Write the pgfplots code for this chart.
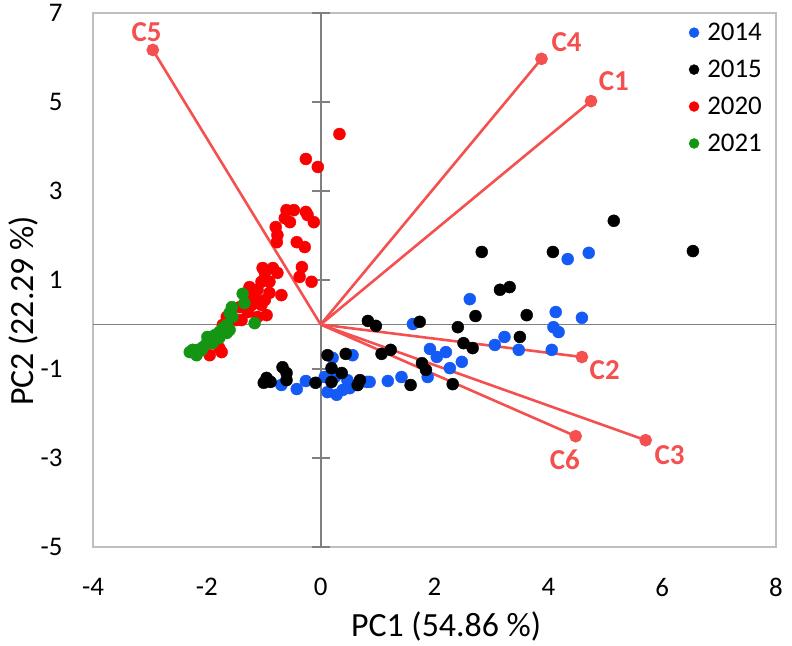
\documentclass[border=0pt]{standalone}
\usepackage{fontspec}
\setmainfont{Carlito}
\usepackage{pgfplots}
\pgfplotsset{compat=1.18}
\definecolor{vec}{RGB}{245,80,80}
\definecolor{b14}{RGB}{20,90,245}
\definecolor{r20}{RGB}{250,0,0}
\definecolor{g21}{RGB}{20,150,20}
\definecolor{frame}{RGB}{191,191,191}
\definecolor{zax}{RGB}{128,128,128}
\begin{document}
\begin{tikzpicture}
\begin{axis}[
  scale only axis, width=683bp, height=534bp,
  xmin=-4, xmax=8, ymin=-5, ymax=7,
  xtick={-4,-2,...,8}, ytick={-5,-3,...,7},
  major tick length=0pt,
  axis line style={frame, line width=1.3bp},
  tick label style={font=\fontsize{27}{30}\selectfont},
  /pgf/number format/assume math mode=true,
  xticklabel style={yshift=-28bp},
  yticklabel style={xshift=-27bp},
  xlabel={PC1 (54.86 \%)}, ylabel={PC2 (22.29 \%)},
  label style={font=\fontsize{34}{40}\selectfont},
  xlabel style={at={(axis description cs:0.517,-0.168)}, anchor=base},
  ylabel style={at={(axis description cs:-0.0878,0.442)}, anchor=base},
  legend style={draw=none, fill=none, at={(rel axis cs:1,1)}, anchor=north east,
     xshift=-10bp, yshift=-6bp, font=\fontsize{27}{30}\selectfont,
     row sep=14bp, column sep=6bp, inner sep=2bp},
  legend cell align=left,
  legend image code/.code={\fill (0bp,0bp) circle (5bp);},
  clip=false,
]
\coordinate (bl) at (rel axis cs:0,0);
\coordinate (tr) at (rel axis cs:1,1);
% central axes
\draw[zax, line width=1.8bp] (axis cs:0,-5) -- (axis cs:0,7);
\draw[zax, line width=1.8bp] (axis cs:-4,0) -- (axis cs:8,0);
\draw[zax, line width=1.8bp] (axis cs:-0.16,-5) -- (axis cs:0.16,-5);
\draw[zax, line width=1.8bp] (axis cs:-0.16,-3) -- (axis cs:0.16,-3);
\draw[zax, line width=1.8bp] (axis cs:-0.16,-1) -- (axis cs:0.16,-1);
\draw[zax, line width=1.8bp] (axis cs:-0.16,1) -- (axis cs:0.16,1);
\draw[zax, line width=1.8bp] (axis cs:-0.16,3) -- (axis cs:0.16,3);
\draw[zax, line width=1.8bp] (axis cs:-0.16,5) -- (axis cs:0.16,5);
\draw[zax, line width=1.8bp] (axis cs:-0.16,7) -- (axis cs:0.16,7);
% loading vectors
\addplot[vec, line width=2.6bp, mark=*, mark indices={2}, mark size=5bp, forget plot] coordinates {(0,0) (-2.95,6.17)};
\addplot[vec, line width=2.6bp, mark=*, mark indices={2}, mark size=5bp, forget plot] coordinates {(0,0) (3.88,5.97)};
\addplot[vec, line width=2.6bp, mark=*, mark indices={2}, mark size=5bp, forget plot] coordinates {(0,0) (4.75,5.02)};
\addplot[vec, line width=2.6bp, mark=*, mark indices={2}, mark size=5bp, forget plot] coordinates {(0,0) (4.59,-0.73)};
\addplot[vec, line width=2.6bp, mark=*, mark indices={2}, mark size=5bp, forget plot] coordinates {(0,0) (5.71,-2.60)};
\addplot[vec, line width=2.6bp, mark=*, mark indices={2}, mark size=5bp, forget plot] coordinates {(0,0) (4.48,-2.51)};
% 2014
\addplot[only marks, mark=*, color=b14, mark size=6bp, mark options={draw=none}] coordinates {
(4.71,1.61) (4.34,1.47) (2.62,0.57) (4.13,0.28) (4.59,0.15) (4.09,-0.06) (4.18,-0.17)
(3.23,-0.28) (3.06,-0.46) (3.48,-0.57) (4.06,-0.57) (1.62,0.01) (1.92,-0.55) (2.04,-0.73)
(2.20,-0.62) (2.48,-0.84) (2.27,-0.98) (1.88,-1.18) (1.42,-1.18) (1.18,-1.27) (0.86,-1.29)
(0.56,-0.69) (0.21,-0.75) (0.81,-1.29) (0.51,-1.43) (0.47,-1.25) (0.28,-1.58) (0.12,-1.52)
(0.07,-1.18) (0.25,-1.18) (-0.26,-1.27) (-0.42,-1.45) (-0.69,-1.36) (0.63,-1.36) (0.39,-1.47)
};
\addlegendentry{2014}
% 2015
\addplot[only marks, mark=*, color=black, mark size=6bp, mark options={draw=none}] coordinates {
(5.15,2.33) (6.54,1.65) (2.83,1.63) (4.08,1.63) (3.15,0.78) (3.32,0.84) (3.62,0.21)
(2.72,0.19) (3.50,-0.28) (0.83,0.08) (0.97,-0.03) (1.74,0.06) (2.41,-0.06) (2.51,-0.42)
(2.67,-0.53) (1.07,-0.66) (1.23,-0.57) (1.78,-0.87) (1.85,-1.02) (1.58,-1.36) (2.32,-1.34)
(0.12,-0.69) (0.44,-0.66) (0.19,-0.98) (0.37,-1.09) (0.19,-1.29) (0.69,-1.25) (0.65,-1.36)
(-0.95,-1.20) (-0.88,-1.29) (-0.67,-0.96) (-0.60,-1.09) (-0.60,-1.25) (-0.09,-1.31) (-1.00,-1.31)
};
\addlegendentry{2015}
% 2020
\addplot[only marks, mark=*, color=r20, mark size=6bp, mark options={draw=none}] coordinates {
(0.33,4.28) (-0.26,3.72) (-0.05,3.54) (-0.60,2.57) (-0.47,2.57) (-0.26,2.53) (-0.23,2.46)
(-0.12,2.30) (-0.63,2.39) (-0.54,2.30) (-0.79,2.19) (-0.76,2.01) (-0.77,1.85) (-0.42,1.85)
(-0.28,1.74) (-0.33,1.29) (-0.37,1.07) (-0.16,0.96) (-1.02,1.27) (-0.84,1.27) (-0.98,1.16)
(-0.76,1.16) (-1.04,0.96) (-0.90,0.96) (-0.69,0.66) (-1.25,0.84) (-1.11,0.78) (-0.90,0.71)
(-1.16,0.62) (-0.98,0.55) (-1.30,0.60) (-1.42,0.39) (-1.21,0.44) (-1.04,0.44) (-0.95,0.21)
(-1.11,0.17) (-1.28,0.28) (-1.39,0.10) (-1.60,0.21) (-1.48,0.10) (-1.65,0.17) (-1.72,-0.01)
(-1.74,-0.62) (-1.95,-0.69) (-1.78,-0.53)
};
\addlegendentry{2020}
% 2021
\addplot[only marks, mark=*, color=g21, mark size=6bp, mark options={draw=none}] coordinates {
(-1.37,0.69) (-1.34,0.48) (-1.56,0.39) (-1.60,0.26) (-1.55,0.17) (-1.16,0.03) (-1.65,-0.01)
(-1.72,-0.08) (-1.78,-0.17) (-1.86,-0.24) (-1.95,-0.30) (-2.00,-0.42) (-2.07,-0.51) (-2.16,-0.57)
(-2.25,-0.57) (-2.30,-0.62) (-2.18,-0.69) (-2.09,-0.57) (-1.90,-0.42) (-1.78,-0.30) (-1.65,-0.19)
(-1.60,-0.12) (-1.99,-0.28)
};
\addlegendentry{2021}
% vector labels
\node[text=vec, font=\fontsize{29}{32}\selectfont\bfseries] at (axis cs:-3.06,6.57) {C5};
\node[text=vec, font=\fontsize{29}{32}\selectfont\bfseries] at (axis cs:4.32,6.35) {C4};
\node[text=vec, font=\fontsize{29}{32}\selectfont\bfseries] at (axis cs:5.15,5.47) {C1};
\node[text=vec, font=\fontsize{29}{32}\selectfont\bfseries] at (axis cs:4.99,-1.02) {C2};
\node[text=vec, font=\fontsize{29}{32}\selectfont\bfseries] at (axis cs:6.13,-2.93) {C3};
\node[text=vec, font=\fontsize{29}{32}\selectfont\bfseries] at (axis cs:4.29,-3.04) {C6};
\end{axis}
\path (bl) ++(-93bp,-99bp);
\path (tr) ++(16bp,13bp);
\end{tikzpicture}
\end{document}
